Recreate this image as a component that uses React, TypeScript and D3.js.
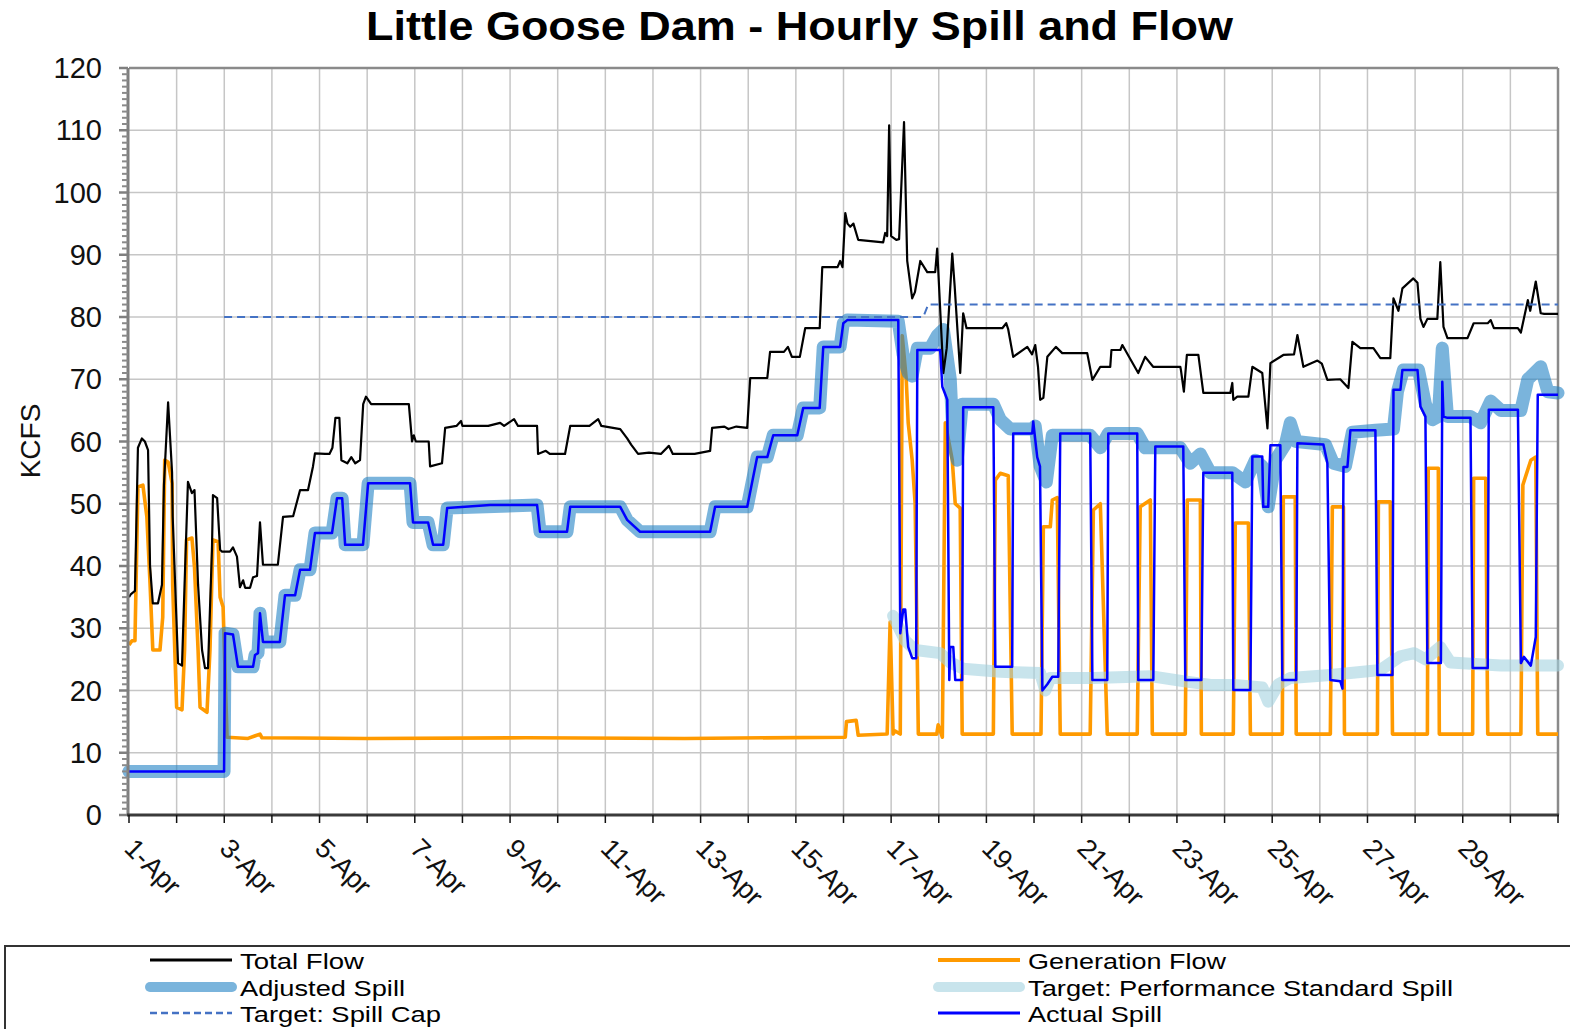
import React from "react";
import * as d3 from "d3";

// hours since 1-Apr 00:00, KCFS
const totalFlow: [number, number][] = [
  [0, 35], [1, 35.5], [3, 36], [4.5, 59], [6.5, 60.5], [8, 60], [9.6, 58.6], [10.6, 40], [12, 34], [14.6, 34],
  [16.6, 37], [17.6, 53], [19.7, 66.3], [21.7, 55], [22, 48], [24.7, 24.4], [26.7, 24], [28, 37], [29.7, 53.5],
  [31.7, 51.7], [33, 52.2], [34.8, 37], [36.8, 26.5], [38.3, 23.6], [39.8, 23.6], [41.8, 42.6], [42.3, 51.4],
  [44.4, 50.9], [45.9, 42.6], [46.9, 42.3], [50.9, 42.3], [52.4, 43], [54.4, 41.5], [55.9, 36.6], [57.5, 37.7],
  [58.5, 36.5], [61, 36.5], [62.5, 38.2], [64.5, 38.4], [66, 47], [67.5, 40.2], [75, 40.2], [77.6, 47.9],
  [82.7, 48], [86.2, 52.2], [90.2, 52.2], [92.7, 56], [93.7, 58.1], [98.8, 58], [101, 58], [102.5, 59],
  [104, 63.8], [106, 63.8], [107, 57], [110, 56.5], [112, 57.5], [114, 56.5], [116.4, 57], [118, 66],
  [119.4, 67.2], [122, 66], [141, 66], [142.6, 60], [143.5, 61], [144.5, 60], [151, 60], [151.7, 56],
  [157.7, 56.5], [159.3, 62.2], [165, 62.5], [167.3, 63.3], [168, 62.5], [181, 62.5], [187, 63], [189, 62.5],
  [194, 63.6], [196, 62.5], [205.6, 62.5], [206.1, 58], [210, 58.5], [212, 58], [219.7, 58], [222.3, 62.5],
  [232, 62.5], [236.4, 63.6], [238, 62.5], [247.5, 62], [251, 60.5], [253, 59.5], [256.5, 58], [262, 58.2],
  [268, 58], [272, 59.3], [274, 58], [285, 58], [292.8, 58.5], [293.8, 62.2], [300, 62.4], [302, 62],
  [306, 62.4], [311.5, 62.2], [313, 70.2], [321.6, 70.2], [323, 74.4], [330, 74.4], [332, 75.2], [334, 73.6],
  [338, 73.6], [340.7, 78.2], [348, 78.2], [349.3, 88], [357, 88], [358.3, 89], [359.5, 88], [360.9, 96.7],
  [362, 95], [363.4, 94.5], [365, 95], [367.4, 92.4], [380, 92], [381, 93.5], [382, 93], [383, 110.8],
  [384, 93], [386.6, 92.4], [388, 92.5], [390.5, 111.3], [392.1, 89], [394.6, 83], [396, 84], [398.7, 89],
  [402.2, 87.2], [406.2, 87.2], [407.2, 91], [410.3, 71], [412, 75], [414.8, 90.2], [416, 85], [418.8, 71],
  [420.3, 80.6], [422, 78.2], [440, 78.2], [442, 79], [443, 78], [445.5, 73.6], [452.6, 75.2], [455, 74],
  [456.6, 75.5], [458, 72], [459.1, 66.7], [460.7, 67], [462.7, 73.6], [467, 75.2], [470.2, 74.2],
  [482.8, 74.2], [485.4, 69.9], [489.4, 72], [494.4, 72], [495, 74.7], [499.5, 74.7], [500.5, 75.5],
  [508.5, 71], [512, 73.6], [516, 72], [529.7, 72], [530, 71.5], [531.5, 68], [533, 73.9], [538.8, 73.9],
  [541.3, 67.8], [554.9, 67.8], [555.9, 69.4], [556.4, 66.7], [558.4, 67.2], [564, 67.2], [566, 72],
  [571, 71], [573.6, 62.1], [575.1, 72.6], [581.6, 73.9], [587, 74], [588.7, 77.1], [591.7, 72],
  [598.8, 73], [601, 72.5], [603.8, 69.9], [610.3, 70], [614.4, 68.6], [616.4, 76], [620.4, 75], [627, 75],
  [630.5, 73.4], [635.5, 73.4], [637.1, 83], [639.6, 81], [641.6, 84.6], [647.1, 86.2], [649.2, 85.5],
  [650.7, 79.7], [652.2, 78.4], [654.2, 79.7], [659.2, 79.7], [660.7, 88.8], [662.3, 78.4], [664.3, 76.6],
  [674.4, 76.6], [677.5, 79], [684.6, 79], [686.1, 79.5], [687.7, 78.2], [699.8, 78.2], [701.3, 77.5],
  [704.8, 82.7], [706, 81], [708.8, 85.7], [711.3, 80.6], [713, 80.5], [720, 80.5],
];

const generationFlow: [number, number][] = [
  [0, 27.3], [1.5, 28], [3, 28], [4.5, 52.7], [7, 53], [9, 47.9], [10.6, 37.2], [12, 26.5], [15.6, 26.5],
  [17, 31.8], [18, 57], [19.7, 56.7], [21.7, 53.3], [22, 37], [24, 17.3], [26.7, 16.9], [28, 26.5], [29, 44.2],
  [31.7, 44.5], [33, 39.8], [34.8, 26.5], [35.8, 17.3], [39.3, 16.5], [40.8, 26.5], [42.3, 44.2], [44.9, 43.9],
  [45.9, 35], [47.4, 33.4], [49.4, 12.5], [60, 12.3], [66, 13], [67, 12.4], [120, 12.3], [200, 12.4],
  [280, 12.3], [360.9, 12.5], [361.5, 15], [366.4, 15.2], [367.4, 12.8], [382, 13], [383.5, 31], [385, 13],
  [386, 13.5], [388.6, 13], [389.6, 77], [391.6, 70], [392.6, 63], [394.6, 57], [396.1, 50], [397.7, 13],
  [407, 13], [407.7, 14.5], [409.8, 12.5], [411.3, 63], [414.8, 57], [416.3, 50], [418.8, 49.3], [419.8, 13],
  [435.5, 13], [436.5, 53.8], [439, 54.9], [443, 54.5], [445, 13], [459.5, 13], [460.7, 46.3], [464.2, 46.3],
  [465.2, 50.6], [467.7, 51], [469.2, 13], [484.3, 13], [485.9, 49], [489.4, 50], [492.9, 13], [508, 13],
  [509.5, 49.5], [514.6, 50.6], [515.6, 13], [532.2, 13], [533.2, 50.6], [539.8, 50.6], [540.3, 13],
  [556.4, 13], [557.4, 46.9], [564, 46.9], [565, 13], [581.1, 13], [581.6, 51.1], [587.6, 51.1], [588.1, 13],
  [605.3, 13], [606.3, 49.5], [611.9, 49.5], [612.4, 13], [629, 13], [629.5, 50.3], [635.5, 50.3],
  [636.6, 13], [654.2, 13], [654.6, 55.7], [659.7, 55.7], [660.2, 13], [677, 13], [677.5, 54.1],
  [683.6, 54.1], [684.6, 13], [701.3, 13], [702.3, 53], [706.3, 57], [708.8, 57.5], [709.8, 13], [720, 13],
];

const actualSpill: [number, number][] = [
  [0, 7], [47.9, 7], [48.4, 29.2], [52.4, 29], [54.9, 23.8], [62.5, 23.8], [63.5, 25.7], [65, 26], [66, 32.4],
  [67.5, 27.8], [76, 27.8], [78.6, 35.3], [83.7, 35.3], [86.2, 39.4], [91.2, 39.4], [93.7, 45.3], [102.3, 45.3],
  [104.8, 50.9], [107.4, 50.9], [108.9, 43.4], [117.9, 43.4], [120.5, 53.3], [141.6, 53.3], [143.1, 47],
  [150.7, 47], [153.2, 43.4], [158.3, 43.4], [160.3, 49.3], [181.9, 49.8], [205.6, 49.8], [207.1, 45.5],
  [220.7, 45.5], [222.3, 49.5], [247.5, 49.5], [251, 47.4], [257.5, 45.5], [292.8, 45.5], [295.3, 49.5],
  [311.5, 49.5], [316.5, 57.5], [321.6, 57.5], [324.6, 61], [336.7, 61], [339.7, 65.4], [348, 65.4],
  [349.8, 75.2], [358.3, 75.2], [359.9, 79], [361.9, 79.5], [387.6, 79.5], [388.6, 29.2], [390.1, 33],
  [391.1, 33], [392.6, 27], [394.6, 25.2], [396.6, 25.2], [397.2, 74.7], [408.7, 74.7], [409.8, 68.8],
  [412.3, 66.7], [413.3, 21.7], [413.8, 27], [415.3, 27], [416.3, 21.7], [419.8, 21.7], [420.3, 65.5],
  [435.5, 65.5], [436.5, 23.8], [445, 23.8], [445.5, 61.3], [455.1, 61.3], [455.6, 63.2], [457.6, 57.5],
  [459, 56], [460.2, 20], [462.7, 21], [465.2, 22.2], [468.2, 22.2], [469.2, 61.3], [484.3, 61.3],
  [485.4, 21.7], [492.9, 21.7], [493.4, 61.3], [508, 61.3], [508.5, 21.7], [516.1, 21.7], [517.1, 59.2],
  [531.2, 59.2], [532.2, 21.7], [540.3, 21.7], [541.3, 55], [555.9, 55], [556.4, 20.1], [565, 20.1],
  [566, 57.6], [571, 57.6], [571.5, 49.5], [574, 49.5], [575.1, 59.4], [580.1, 59.4], [581.1, 21.7],
  [588.1, 21.7], [588.7, 59.7], [601.8, 59.5], [603.8, 56.5], [605.3, 21.7], [610.3, 21.5], [611.4, 20.3],
  [611.9, 55.9], [613.9, 55.9], [615.4, 61.8], [628, 61.8], [629, 22.5], [636.6, 22.5], [637.1, 68.3],
  [640.6, 68.3], [641.6, 71.5], [649.2, 71.5], [650.7, 65.6], [653.2, 64], [654.2, 24.4], [661, 24.4],
  [661.7, 69.6], [662.3, 64], [664.3, 63.8], [675.9, 63.8], [677, 23.6], [684.6, 23.6], [685.1, 65.1],
  [699.8, 65.1], [701.3, 24.4], [702.8, 25.4], [706.3, 24], [708.8, 28.6], [709.8, 67.5], [720, 67.5],
];

const adjustedSpill: [number, number][] = [
  [0, 7], [47.9, 7], [48.4, 29.2], [52.4, 29], [54.9, 23.8], [62.5, 23.8], [63.5, 25.7], [65, 26], [66, 32.4],
  [67.5, 27.8], [76, 27.8], [78.6, 35.3], [83.7, 35.3], [86.2, 39.4], [91.2, 39.4], [93.7, 45.3], [102.3, 45.3],
  [104.8, 50.9], [107.4, 50.9], [108.9, 43.4], [117.9, 43.4], [120.5, 53.3], [141.6, 53.3], [143.1, 47],
  [150.7, 47], [153.2, 43.4], [158.3, 43.4], [160.3, 49.3], [205.6, 49.8], [207.1, 45.5], [220.7, 45.5],
  [222.3, 49.5], [247.5, 49.5], [251, 47.4], [257.5, 45.5], [292.8, 45.5], [295.3, 49.5], [311.5, 49.5],
  [316.5, 57.5], [321.6, 57.5], [324.6, 61], [336.7, 61], [339.7, 65.4], [348, 65.4], [349.8, 75.2],
  [358.3, 75.2], [359.9, 79], [361.9, 79.5], [387.6, 79.3], [390, 74], [392.6, 71], [394.6, 70.5],
  [397.2, 75], [403.7, 75], [407.2, 77], [410.3, 78], [413.8, 70], [415.3, 60], [417.3, 57], [419.8, 66],
  [435.5, 66], [439, 63.5], [444, 62], [455.1, 62], [456.6, 62.5], [459.1, 56], [462.2, 53.5], [465.2, 61],
  [484.3, 61], [489.4, 59], [493.4, 61.3], [508, 61.3], [512, 59], [529.7, 59], [534.7, 56.5], [539.8, 58],
  [544.8, 55], [555.9, 55], [562.5, 53.5], [567.5, 57], [571, 56], [574, 49.5], [577.6, 57], [582.6, 59.5],
  [585.1, 63], [588.1, 60], [602.8, 59.5], [606.8, 56.5], [612.9, 56], [616.4, 61.5], [628, 61.8],
  [637.1, 62], [639.1, 68], [642.1, 71.5], [649.7, 71.5], [653.2, 66], [656.7, 63.5], [659.7, 64],
  [661.7, 75], [664.3, 64], [675.9, 64], [681, 63], [686.1, 66.5], [691.2, 65], [701.3, 65], [704.8, 70],
  [711.3, 72], [714.9, 68], [720, 67.8],
];

const performanceSpill: [number, number][] = [
  [385, 32], [391.1, 28], [396.1, 26.5], [408.7, 26], [413.8, 24.5], [420.3, 23.5], [439, 23], [459.1, 22.8],
  [461.7, 20], [464.2, 22], [485.9, 22], [514.6, 22.3], [531, 21.5], [545, 20.9], [557, 20.9], [571, 20.5],
  [574, 18.2], [579.1, 21], [585.1, 22], [605.3, 22.5], [630.5, 23.3], [640.6, 25.5], [647.6, 26],
  [653.2, 25], [660.7, 27], [665.8, 24.5], [691.2, 24], [720, 24],
];

const spillCap: [number, number][] = [[47.9, 80], [400.2, 80], [402.7, 82], [720, 82]];

const yTicks = [0, 10, 20, 30, 40, 50, 60, 70, 80, 90, 100, 110, 120];
const dayLabels = ["1-Apr", "3-Apr", "5-Apr", "7-Apr", "9-Apr", "11-Apr", "13-Apr", "15-Apr", "17-Apr",
  "19-Apr", "21-Apr", "23-Apr", "25-Apr", "27-Apr", "29-Apr"];

const W = 1570;
const H = 1029;
const left = 129;
const right = 1558;
const top = 68;
const bottom = 815;

const x = d3.scaleLinear().domain([0, 720]).range([left, right]);
const y = d3.scaleLinear().domain([0, 120]).range([bottom, top]);
const lineGen = d3.line<[number, number]>().x(d => x(d[0])).y(d => y(d[1]));

const font = "'Liberation Sans', Arial, sans-serif";

const legendLeft = [
  { label: "Total Flow", color: "#000", w: 3, dash: "", len: 124 },
  { label: "Adjusted Spill", color: "#7ab4dc", w: 10, dash: "", len: 165 },
  { label: "Target: Spill Cap", color: "#4472c4", w: 2.5, dash: "7 4", len: 201 },
];
const legendRight = [
  { label: "Generation Flow", color: "#ff9a00", w: 4, dash: "", len: 198 },
  { label: "Target: Performance Standard Spill", color: "#c8e4ec", w: 10, dash: "", len: 425 },
  { label: "Actual Spill", color: "#0000ff", w: 3, dash: "", len: 134 },
];

export default function App() {
  const days = d3.range(0, 31);
  const minor = d3.range(0, 121).filter(v => v % 10 !== 0);
  const rows = [960, 987, 1013];
  return (
    <div style={{ position: "absolute", left: 0, top: 0, background: "#fff" }}>
      <svg width={W} height={H} style={{ display: "block", fontFamily: font }}>
        <rect width={W} height={H} fill="#fff" />
        <text x={366} y={40} fontSize={40} fontWeight="bold" textLength={867} lengthAdjust="spacingAndGlyphs">
          Little Goose Dam - Hourly Spill and Flow
        </text>

        {/* grid */}
        {days.slice(1, 30).map(d => (
          <line key={"gx" + d} x1={x(d * 24)} x2={x(d * 24)} y1={top} y2={bottom} stroke="#c6c6c6" strokeWidth={1.5} />
        ))}
        {yTicks.slice(1, 12).map(v => (
          <line key={"gy" + v} x1={left} x2={right} y1={y(v)} y2={y(v)} stroke="#c6c6c6" strokeWidth={1.5} />
        ))}
        <line x1={left} x2={right} y1={top} y2={top} stroke="#8a8a8a" strokeWidth={2.5} />
        <line x1={right} x2={right} y1={top} y2={bottom} stroke="#8a8a8a" strokeWidth={2.5} />

        {/* series */}
        <path d={lineGen(generationFlow) || ""} fill="none" stroke="#ff9a00" strokeWidth={3.6} strokeLinejoin="round" />
        <path d={lineGen(adjustedSpill) || ""} fill="none" stroke="#2182c5" strokeOpacity={0.6} strokeWidth={13} strokeLinejoin="round" strokeLinecap="round" />
        <path d={lineGen(performanceSpill) || ""} fill="none" stroke="#a3d2df" strokeOpacity={0.6} strokeWidth={12} strokeLinejoin="round" strokeLinecap="round" />
        <path d={lineGen(totalFlow) || ""} fill="none" stroke="#000" strokeWidth={2.2} strokeLinejoin="round" />
        <path d={lineGen(spillCap) || ""} fill="none" stroke="#4472c4" strokeWidth={2} strokeDasharray="8 5" />
        <path d={lineGen(actualSpill) || ""} fill="none" stroke="#0000ff" strokeWidth={2.5} strokeLinejoin="round" />

        {/* y axis */}
        <line x1={left - 1} x2={left - 1} y1={top} y2={bottom} stroke="#7f7f7f" strokeWidth={3} />
        {minor.map(v => (
          <line key={"mn" + v} x1={left - 7} x2={left - 1} y1={y(v)} y2={y(v)} stroke="#8a8a8a" strokeWidth={2} />
        ))}
        {yTicks.map(v => (
          <g key={"yt" + v}>
            <line x1={left - 10} x2={left - 1} y1={y(v)} y2={y(v)} stroke="#7f7f7f" strokeWidth={2.5} />
            <text x={102} y={y(v) + 10} fontSize={29} textAnchor="end" fill="#111">{v}</text>
          </g>
        ))}
        <text transform={`translate(40,441) rotate(-90)`} fontSize={28} textAnchor="middle" fill="#111">KCFS</text>

        {/* x axis */}
        <line x1={left - 2} x2={right + 1} y1={bottom} y2={bottom} stroke="#3a3a3a" strokeWidth={3} />
        {days.map(d => (
          <line key={"xt" + d} x1={x(d * 24)} x2={x(d * 24)} y1={bottom} y2={bottom + 8} stroke="#111" strokeWidth={1.5} />
        ))}
        {dayLabels.map((t, i) => (
          <text key={t} transform={`translate(${x(i * 48) - 6},${850}) rotate(45)`} fontSize={27} fill="#111">{t}</text>
        ))}

        {/* legend */}
        <rect x={5} y={946} width={1600} height={120} fill="#fff" stroke="#333" strokeWidth={2} />
        {legendLeft.map((e, i) => (
          <g key={e.label}>
            <line x1={150} x2={232} y1={rows[i]} y2={rows[i]} stroke={e.color} strokeWidth={e.w}
              strokeDasharray={e.dash || undefined} strokeLinecap={e.w > 5 ? "round" : "butt"} />
            <text x={240} y={rows[i] + 9} fontSize={22} textLength={e.len} lengthAdjust="spacingAndGlyphs">{e.label}</text>
          </g>
        ))}
        {legendRight.map((e, i) => (
          <g key={e.label}>
            <line x1={938} x2={1020} y1={rows[i]} y2={rows[i]} stroke={e.color} strokeWidth={e.w}
              strokeLinecap={e.w > 5 ? "round" : "butt"} />
            <text x={1028} y={rows[i] + 9} fontSize={22} textLength={e.len} lengthAdjust="spacingAndGlyphs">{e.label}</text>
          </g>
        ))}
      </svg>
    </div>
  );
}
